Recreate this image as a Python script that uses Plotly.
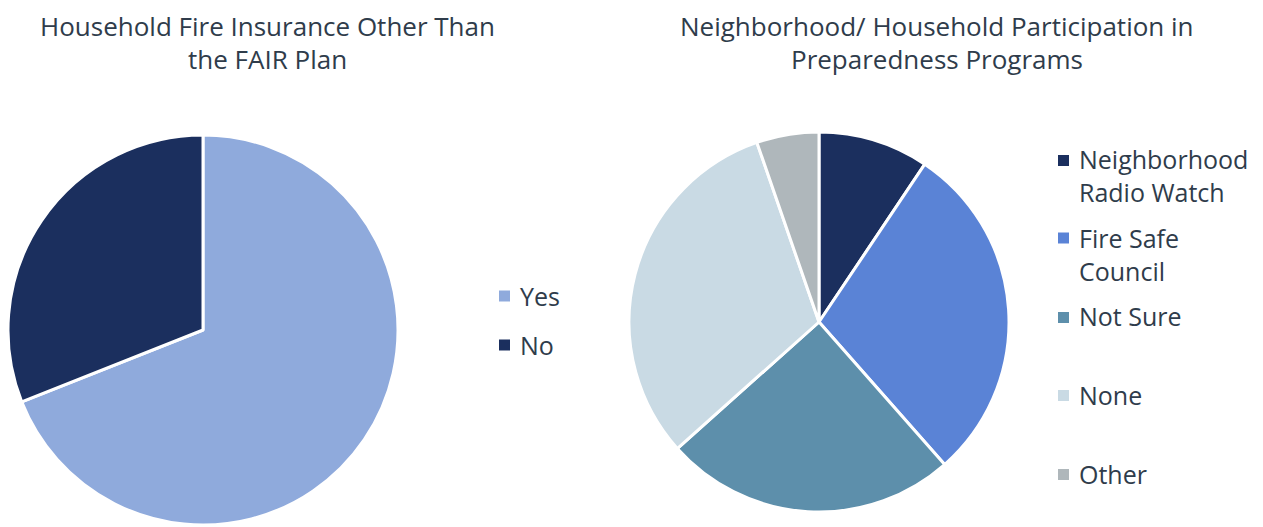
import plotly.graph_objects as go

# Data
ins_labels = ["Yes", "No"]
ins_values = [69, 31]
ins_colors = ["#8FAADC", "#1B2F5E"]

prog_labels = ["Neighborhood Radio Watch", "Fire Safe Council", "Not Sure", "None", "Other"]
prog_legend_text = ["Neighborhood<br>Radio Watch", "Fire Safe<br>Council", "Not Sure", "None", "Other"]
prog_values = [9.4, 29.1, 24.9, 31.3, 5.3]
prog_colors = ["#1B2F5E", "#5A83D6", "#5D8FAB", "#C9DAE4", "#AFB7BB"]

titles_left = ["Household Fire Insurance Other Than", "the FAIR Plan"]
titles_right = ["Neighborhood/ Household Participation in", "Preparedness Programs"]

W, H = 1263, 527
OFF = 8  # page body margin offset
FONT = "Open Sans"
TXT = "#2F3C4B"

def px_x(x):
    return max(0.0, (x - OFF) / W)

def px_y(y):
    return min(1.0, max(0.0, 1 - (y - OFF) / H))

fig = go.Figure()

fig.add_trace(go.Pie(
    labels=ins_labels, values=ins_values, sort=False, direction="clockwise",
    rotation=0, marker=dict(colors=ins_colors, line=dict(color="white", width=3)),
    textinfo="none", hoverinfo="label+percent", showlegend=False,
    domain=dict(x=[px_x(8), px_x(398)], y=[px_y(525), px_y(135)]),
))

fig.add_trace(go.Pie(
    labels=prog_labels, values=prog_values, sort=False, direction="clockwise",
    rotation=0, marker=dict(colors=prog_colors, line=dict(color="white", width=3)),
    textinfo="none", hoverinfo="label+percent", showlegend=False,
    domain=dict(x=[px_x(629), px_x(1009)], y=[px_y(512), px_y(132)]),
))

annotations = []
shapes = []

# Titles
title_y = [26, 59]
for i, t in enumerate(titles_left):
    annotations.append(dict(text=t, x=px_x(267), y=px_y(title_y[i]), xref="paper", yref="paper",
                            xanchor="center", yanchor="middle", showarrow=False, borderpad=0,
                            font=dict(family=FONT, size=26, color=TXT)))
for i, t in enumerate(titles_right):
    annotations.append(dict(text=t, x=px_x(937), y=px_y(title_y[i]), xref="paper", yref="paper",
                            xanchor="center", yanchor="middle", showarrow=False, borderpad=0,
                            font=dict(family=FONT, size=26, color=TXT)))

# Legend left
left_leg_y = [296, 345]
for lab, col, y in zip(ins_labels, ins_colors, left_leg_y):
    shapes.append(dict(type="rect", xref="paper", yref="paper",
                       x0=px_x(499), x1=px_x(510), y0=px_y(y - 5.5), y1=px_y(y + 5.5),
                       fillcolor=col, line=dict(width=0)))
    annotations.append(dict(text=lab, x=px_x(518), y=px_y(y), xref="paper", yref="paper",
                            xanchor="left", yanchor="middle", showarrow=False, align="left",
                            font=dict(family=FONT, size=25, color=TXT)))

# Legend right
right_sq_y = [160.5, 238, 317.5, 395.5, 474.5]
right_txt_y = [175, 254, 316, 395, 474]
for lab, col, ys, yt in zip(prog_legend_text, prog_colors, right_sq_y, right_txt_y):
    shapes.append(dict(type="rect", xref="paper", yref="paper",
                       x0=px_x(1058), x1=px_x(1069), y0=px_y(ys - 5.5), y1=px_y(ys + 5.5),
                       fillcolor=col, line=dict(width=0)))
    annotations.append(dict(text=lab, x=px_x(1077), y=px_y(yt), xref="paper", yref="paper",
                            xanchor="left", yanchor="middle", showarrow=False, align="left",
                            font=dict(family=FONT, size=25, color=TXT)))

fig.update_layout(
    width=W, height=H, margin=dict(l=0, r=0, t=0, b=0),
    paper_bgcolor="white", plot_bgcolor="white",
    annotations=annotations, shapes=shapes, showlegend=False,
)

fig.write_html("out.html")
